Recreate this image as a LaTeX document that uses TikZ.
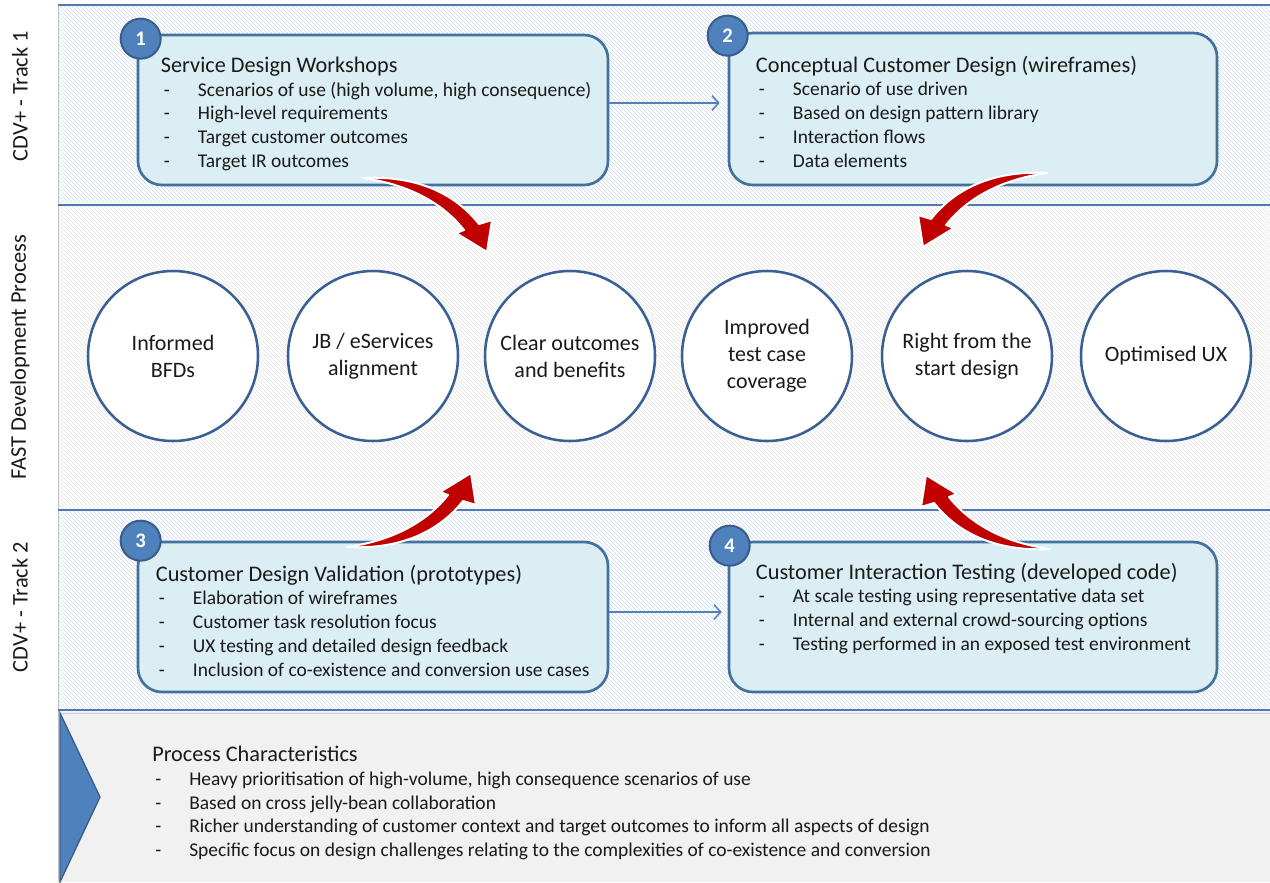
\documentclass[tikz,border=0pt]{standalone}
\usepackage{fontspec}
\setmainfont{Carlito}
\usetikzlibrary{arrows.meta,patterns,calc}

\definecolor{boxfill}{HTML}{DAEEF3}
\definecolor{boxline}{HTML}{41719C}
\definecolor{badgefill}{HTML}{4F81BD}
\definecolor{badgeline}{HTML}{385D8A}
\definecolor{circline}{HTML}{3A5F93}
\definecolor{bandline}{HTML}{5079B3}
\definecolor{hatchblue}{HTML}{CCDAEE}
\definecolor{hatchgray}{HTML}{E3E3E3}
\definecolor{panelgray}{HTML}{F1F1F1}
\definecolor{arrowred}{HTML}{C00000}
\definecolor{ink}{HTML}{1A1A1A}

\tikzset{
  card/.style={draw=boxline, fill=boxfill, line width=2pt, rounded corners=18pt},
  badge/.style={circle, draw=badgeline, fill=badgefill, line width=1.5pt,
    minimum size=30pt, inner sep=0pt, text=white,
    font=\fontsize{15.5}{18}\selectfont\bfseries},
  cardtext/.style={anchor=north west, inner sep=0pt, align=left, text=ink,
    font=\fontsize{14.6}{17.8}\selectfont},
  stage/.style={circle, draw=circline, fill=white, line width=1.9pt,
    minimum size=127.5pt, inner sep=0pt, align=center, text=ink,
    font=\fontsize{16.5}{20.25}\selectfont},
  lane/.style={rotate=90, inner sep=0pt, text=ink, font=\fontsize{16.8}{20}\selectfont},
  flow/.style={draw=badgefill, line width=1.1pt, -{Straight Barb[length=5pt,width=11pt]}},
  bigarrow/.pic={
    \fill[arrowred, draw=white, line width=1.5pt, line join=round]
      (0,0) .. controls (57,-3) and (94,18) .. (116,46) -- (129,42) -- (124,74)
      -- (93,55) -- (101,52) .. controls (82,28) and (50,7) .. (0,0) -- cycle;
  }
}
\newcommand{\itm}{\hspace*{2.25pt}\makebox[25.5pt][l]{-}}
\newcommand{\ttl}[1]{{\fontsize{16.7}{17.8}\selectfont #1}}

\begin{document}
\begin{tikzpicture}[x=0.75pt, y=-0.75pt]
 \useasboundingbox (0,0) rectangle (1270,882);
 \fill[white] (0,0) rectangle (1270,882);

 \fill[white] (58,5) rectangle (1270,205);
 \fill[pattern=north west lines, pattern color=hatchblue] (58,5) rectangle (1270,205);
 \fill[white] (58,205) rectangle (1270,510);
 \fill[pattern=north west lines, pattern color=hatchgray] (58,205) rectangle (1270,510);
 \fill[white] (58,510) rectangle (1270,710);
 \fill[pattern=north west lines, pattern color=hatchblue] (58,510) rectangle (1270,710);
 \fill[panelgray] (58,711) rectangle (1270,882);
 \draw[gray!50] (58,5) -- (58,882);
 \draw[bandline, line width=1.2pt] (58,5) -- (1270,5);
 \draw[bandline, line width=1.2pt] (58,205) -- (1270,205);
 \draw[bandline, line width=1.2pt] (58,510) -- (1270,510);
 \draw[bandline, line width=1.2pt] (58,710) -- (1270,710);
 \draw[gray!40] (60,713) -- (1270,713);
 \fill[badgefill, draw=badgeline, line width=1pt] (60,713) -- (100,797) -- (60,882) -- cycle;

 \node[lane] (l1) at (20,96) {CDV+ - Track 1};
 \node[lane] (l2) at (20,357) {FAST Development Process};
 \node[lane] (l3) at (20,607) {CDV+ - Track 2};

 \node[card, minimum width=352.5pt, minimum height=112.5pt] (box1) at (373,110) {};
 \node[card, minimum width=366pt, minimum height=114pt] (box2) at (973,109) {};
 \node[card, minimum width=352.5pt, minimum height=112.5pt] (box3) at (373,617) {};
 \node[card, minimum width=366pt, minimum height=112.5pt] (box4) at (973,617) {};

 \node[badge] (n1) at ([shift={(4,5)}]box1.north west) {1};
 \node[badge] (n2) at ([shift={(0,4)}]box2.north west) {2};
 \node[badge] (n3) at ([shift={(4,0)}]box3.north west) {3};
 \node[badge] (n4) at ([shift={(2,5)}]box4.north west) {4};

 \node[cardtext] (t1) at ([shift={(24,23)}]box1.north west) {\ttl{Service Design Workshops}\\
   \itm Scenarios of use (high volume, high consequence)\\
   \itm High-level requirements\\
   \itm Target customer outcomes\\
   \itm Target IR outcomes};
 \node[cardtext] (t2) at ([shift={(28,24)}]box2.north west) {\ttl{Conceptual Customer Design (wireframes)}\\
   \itm Scenario of use driven\\
   \itm Based on design pattern library\\
   \itm Interaction flows\\
   \itm Data elements};
 \node[cardtext] (t3) at ([shift={(19,24)}]box3.north west) {\ttl{Customer Design Validation (prototypes)}\\
   \itm Elaboration of wireframes\\
   \itm Customer task resolution focus\\
   \itm UX testing and detailed design feedback\\
   \itm Inclusion of co-existence and conversion use cases};
 \node[cardtext] (t4) at ([shift={(28,22)}]box4.north west) {\ttl{Customer Interaction Testing (developed code)}\\
   \itm At scale testing using representative data set\\
   \itm Internal and external crowd-sourcing options\\
   \itm Testing performed in an exposed test environment};

 \draw[flow] ($(box1.east)+(0,-7)$) -- ($(box2.west)+(-8,-6)$);
 \draw[flow] ($(box3.east)+(0,-5)$) -- ($(box4.west)+(-6,-5)$);

 \node[stage] (c1) at (173,356) {Informed\\BFDs};
 \node[stage] (c2) at (373,356) {JB / eServices\\alignment};
 \node[stage] (c3) at (570,356) {Clear outcomes\\and benefits};
 \node[stage] (c4) at (767,356) {Improved\\test case\\coverage};
 \node[stage] (c5) at (967,356) {Right from the\\start design};
 \node[stage] (c6) at (1166,356) {Optimised UX};

 \coordinate (a1) at (363,178);
 \coordinate (a2) at (1047,173);
 \coordinate (a3) at (347,547);
 \coordinate (a4) at (1050,549);
 \pic at (a1) {bigarrow};
 \pic[xscale=-1] at (a2) {bigarrow};
 \pic[yscale=-1] at (a3) {bigarrow};
 \pic[xscale=-1, yscale=-1] at (a4) {bigarrow};

 \node[cardtext] (pc) at (152,746) {\ttl{Process Characteristics}\\
   \itm Heavy prioritisation of high-volume, high consequence scenarios of use\\
   \itm Based on cross jelly-bean collaboration\\
   \itm Richer understanding of customer context and target outcomes to inform all aspects of design\\
   \itm Specific focus on design challenges relating to the complexities of co-existence and conversion};
\end{tikzpicture}
\end{document}
